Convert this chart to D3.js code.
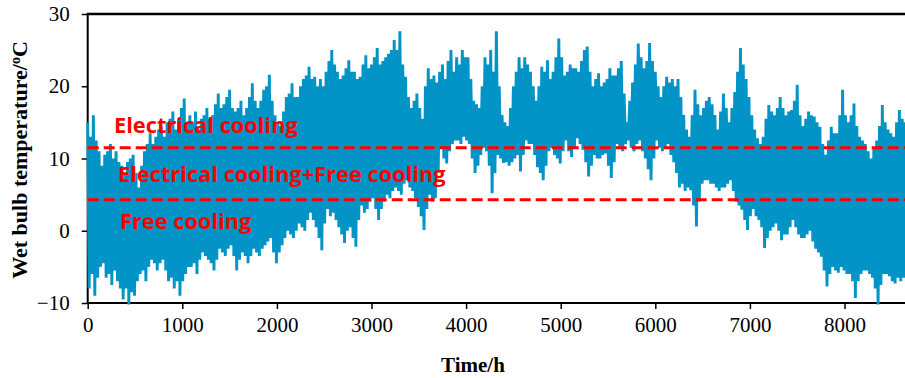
<!DOCTYPE html>
<html>
<head>
<meta charset="utf-8">
<script src="https://cdn.jsdelivr.net/npm/d3@7/dist/d3.min.js"></script>
<style>
  html, body { margin: 0; padding: 0; background: #fff; overflow: hidden; }
  svg { display: block; }
</style>
</head>
<body>
<svg id="chart" width="905" height="378"></svg>
<script>
// ---- data ----
// wet bulb temperature, 60-hour blocks starting at hour 0:
// block peak/trough at the start of each block, and a second peak/trough 30 h later
const stepHours = 60;
const blockHighs = [
  15, 16, 11, 10.5, 12, 11, 9, 9.5, 10.5, 6, 11, 13.5, 13, 14.5, 15, 16.5, 15.5, 18.3, 16, 16.5, 15.5,
  17, 16, 19, 17.5, 19.5, 16.5, 18, 17, 20.4, 17, 19.5, 21.6, 16, 14.5, 18.5, 20.4, 18.5, 21, 22.7, 21.3,
  21, 22, 25, 22, 21.5, 23.6, 22, 21.3, 24.3, 23, 25.3, 23.5, 24.5, 26.4, 27.6, 21.3, 17, 19, 15.5, 22.5, 21.5,
  22, 21, 25, 24, 25, 24, 18, 17, 24, 25, 27.6, 16, 14.5, 20, 24, 24, 22, 18, 22.7, 23.6, 22,
  26.6, 21.5, 23, 22.5, 23.5, 25.5, 20, 21.8, 20.5, 22.5, 21.5, 23.5, 15, 20.5, 25.9, 22.5, 26, 22, 18.5, 21.3,
  21, 21, 16, 13, 19.5, 16, 18, 17.5, 14, 19, 15, 19.2, 25.3, 21, 16, 12.8, 13, 17.4, 16, 18.5, 16,
  16.7, 20.2, 14.5, 16.5, 15.8, 14.4, 10.5, 14.4, 13.5, 19.5, 15, 17.6, 13, 12, 10, 12.5, 17.4, 14, 13, 16.7, 15, 14
];
const blockLows = [
  -8, -9, -5, -6.5, -7.5, -7, -9.5, -10.2, -9, -6, -7, -4, -5.5, -4, -7, -8, -9, -6, -5, -6, -3,
  -4, -5.5, -2.5, -3.5, -2, -5.5, -3, -4.5, -2.5, -3.5, -2, -1, -4.5, -2, 0, -1, 1, 0, 2.5, 0.5,
  -2.7, 3, 2.5, 0.5, -1.7, 0.5, -2.2, 3.5, 3, 4.5, 1.5, 4, 4.5, 6, 5, 7, 5.5, 3.3, 0.1, 5, 4.5,
  11.5, 9.3, 12, 12.5, 13, 12, 8, 10.5, 11, 5.2, 10.5, 9.4, 9, 10, 8.2, 12.5, 12, 8.8, 7, 11, 10.5,
  9.3, 12.5, 10.2, 12.8, 11.2, 7.5, 10.5, 10, 10.7, 7.3, 12, 11, 12.5, 11, 12.5, 10, 7, 12.5, 11, 12,
  9.5, 6, 5.5, 5.6, 0.6, 6.5, 7, 6.5, 5.5, 6, 7, 4, 2.9, 0.1, 3, 1.5, -2.4, 0, 1, -1.3, -0.5,
  1.5, -0.5, -1, 0, -2.5, -3.6, -7.7, -5, -5.8, -5.5, -6, -9.3, -6, -5.5, -6.5, -10.2, -6, -6.3, -7.3, -7, -6.5, -7
];
const midHighs = [
  13, 12.5, 9, 11, 10, 9.5, 8, 10, 8, 9, 12, 12, 14, 13, 15.5, 14, 17, 15, 15, 14, 16,
  15.5, 17.5, 17, 18.5, 17, 17, 16, 18.5, 18, 18, 20, 18, 15, 16.5, 19, 18.5, 20, 21.5, 21, 20,
  20, 23.5, 23, 21, 22.5, 22, 21, 23, 22.5, 24, 23, 24, 25, 25, 23, 18.5, 18, 17, 20, 21, 20.5,
  23, 23.5, 22, 23, 24, 21, 17.5, 20, 23, 22, 20, 15, 17, 22, 22.5, 23, 20, 20, 22, 21, 24,
  24, 22, 22.5, 22, 25, 22, 21, 20, 21, 21.5, 22.5, 19, 18, 23, 24, 23.5, 23.5, 20, 20, 20.5,
  20, 18.5, 14, 16, 17.5, 17, 18.5, 16, 16.5, 17, 17, 22, 23, 18.5, 14, 12, 15.5, 16.5, 17, 17, 16.5,
  18, 16, 15.5, 16, 15, 12, 12.5, 13.5, 16, 16, 16, 14.5, 12.5, 11, 11.5, 14.5, 15, 13.5, 15, 15.5, 14, 13
];
const midLows = [
  -6, -6.5, -4.5, -6, -5.5, -8, -8, -8.5, -7, -5.5, -5, -4.5, -4.5, -5.5, -6.5, -7, -7, -5, -4.5, -4, -3.5,
  -4.5, -4, -3, -2.5, -3.5, -4, -3.5, -3.5, -3, -2.5, -1.5, -3, -3, -1, -0.5, 0, 0.5, 1.5, 1.5, -1,
  1, 2, 1.5, -0.5, 0, -1, 1.5, 2.5, 4, 3, 3, 5, 5.5, 5.5, 6.5, 6, 4.5, 2, 3, 4, 8,
  10, 11, 12.5, 12, 12.5, 10, 9, 11.5, 9, 8, 10, 9.5, 9.5, 10.5, 10.5, 12, 10.5, 8, 9, 11.5, 10,
  11, 11, 11.5, 12, 9.5, 9, 10, 10.5, 9, 9.5, 11.5, 12, 11.5, 12, 11, 8.5, 10, 11.5, 11.5, 10.5,
  8, 6.5, 6, 3.5, 4, 7, 6.5, 6, 6, 6.5, 5.5, 3.5, 1.5, 2, 2, 0.5, -1, 0.5, 0, -0.5, 0.5,
  0.5, -1, -0.5, -1.5, -3, -5.5, -6, -5.5, -5, -6, -7, -7, -5.5, -6, -8, -7.5, -6, -7, -6.5, -6.5, -6.5, -6
];
const thresholds = [11.5, 4.3];
const zoneLabels = ["Electrical cooling", "Electrical cooling+Free cooling", "Free cooling"];
const hourTicks = [0, 1000, 2000, 3000, 4000, 5000, 6000, 7000, 8000];
const tempTicks = [-10, 0, 10, 20, 30];
const xTitle = "Time/h";

// ---- layout ----
const svg = d3.select("#chart");
const plotLeft = 87.7, plotTop = 14, plotBottom = 303;
const x = d3.scaleLinear().domain([0, 8760]).range([plotLeft, plotLeft + 8.76 * 94.6]);
const y = d3.scaleLinear().domain([-10, 30]).range([plotBottom, plotTop]);

// axes
const gx = svg.append("g").attr("transform", `translate(0,${plotBottom})`)
  .call(d3.axisBottom(x).tickValues(hourTicks).tickFormat(d3.format("d")).tickSizeOuter(0).tickSize(6).tickPadding(8));
const gy = svg.append("g").attr("transform", `translate(${plotLeft},0)`)
  .call(d3.axisLeft(y).tickValues(tempTicks).tickFormat(d3.format("d")).tickSizeOuter(0).tickSize(6).tickPadding(12));
[gx, gy].forEach(g => {
  g.select(".domain").attr("stroke", "#000").attr("stroke-width", 2);
  g.selectAll(".tick line").attr("stroke", "#000").attr("stroke-width", 1.5);
  g.selectAll(".tick text").attr("fill", "#000")
    .style("font-family", "'Liberation Serif', 'Times New Roman', serif").style("font-size", "21px");
});
gx.select(".domain").attr("d", `M${plotLeft},0H905`);
gy.select(".domain").attr("d", `M0,${plotBottom}V${plotTop}`);
// top frame line
svg.append("line").attr("x1", plotLeft - 1).attr("x2", 905).attr("y1", y(30)).attr("y2", y(30))
  .attr("stroke", "#000").attr("stroke-width", 2.5);

// series: zigzag through block peaks and troughs
const pts = [];
blockHighs.forEach((h, i) => {
  const t = i * stepHours;
  pts.push([t, h]);
  pts.push([t + stepHours / 4, blockLows[i]]);
  pts.push([t + stepHours / 2, midHighs[i]]);
  pts.push([t + 3 * stepHours / 4, midLows[i]]);
});
svg.append("path")
  .attr("d", d3.line().x(d => x(d[0])).y(d => y(d[1]))(pts))
  .attr("fill", "none").attr("stroke", "#0394c7").attr("stroke-width", 2.9)
  .attr("stroke-linejoin", "bevel");

// threshold lines
svg.selectAll(".thr").data(thresholds).enter().append("line")
  .attr("x1", plotLeft).attr("x2", 905)
  .attr("y1", d => y(d)).attr("y2", d => y(d))
  .attr("stroke", "#ff0000").attr("stroke-width", 3).attr("stroke-dasharray", "11,5");

// zone labels
const labelPos = [
  [114, y(thresholds[0]) - 15],
  [118, y(thresholds[0]) + 34],
  [120, y(thresholds[1]) + 29]
];
svg.selectAll(".zone").data(zoneLabels).enter().append("text")
  .attr("x", (d, i) => labelPos[i][0]).attr("y", (d, i) => labelPos[i][1])
  .attr("fill", "#ff0000")
  .style("font-family", "'Open Sans', 'Noto Sans', sans-serif")
  .style("font-weight", "bold").style("font-size", "21.8px")
  .text(d => d);

// axis titles
svg.append("text").attr("x", 473).attr("y", 372).attr("text-anchor", "middle")
  .style("font-family", "'Liberation Serif', 'Times New Roman', serif")
  .style("font-weight", "bold").style("font-size", "21px").text(xTitle);
const yt = svg.append("text")
  .attr("transform", "translate(27,160) rotate(-90)").attr("text-anchor", "middle")
  .style("font-family", "'Liberation Serif', 'Times New Roman', serif")
  .style("font-weight", "bold").style("font-size", "22px");
yt.append("tspan").text("Wet bulb temperature/");
yt.append("tspan").attr("baseline-shift", "super").style("font-size", "14px").text("o");
yt.append("tspan").text("C");
</script>
</body>
</html>
